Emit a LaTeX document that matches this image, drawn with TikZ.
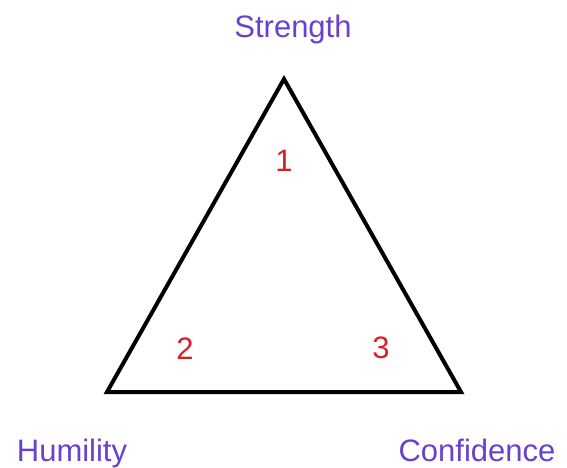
\documentclass[tikz,border=0pt]{standalone}
\usepackage{fontspec}
\setmainfont{Liberation Sans}
\definecolor{lblpurple}{RGB}{106,64,206}
\definecolor{numred}{RGB}{214,32,40}
\begin{document}
\begin{tikzpicture}[x=1pt,y=-1pt,
  lbl/.style={text=lblpurple,font=\fontsize{31}{31}\selectfont,anchor=base,inner sep=0pt},
  num/.style={text=numred,font=\fontsize{31}{31}\selectfont,anchor=base,inner sep=0pt}]
\useasboundingbox (0,0) rectangle (567,467);
\coordinate (top) at (284,79);
\coordinate (bl) at (107,392);
\coordinate (br) at (461,392);
\draw[line width=4pt,line join=miter] (top) -- (bl) -- (br) -- cycle;
\node[lbl] (strength) at (293,37) {Strength};
\node[lbl] (humility) at (72,461) {Humility};
\node[lbl] (confidence) at (477,461) {Confidence};
\node[num] (n1) at (284,171) {1};
\node[num] (n2) at (185,359) {2};
\node[num] (n3) at (381,358) {3};
\end{tikzpicture}
\end{document}
